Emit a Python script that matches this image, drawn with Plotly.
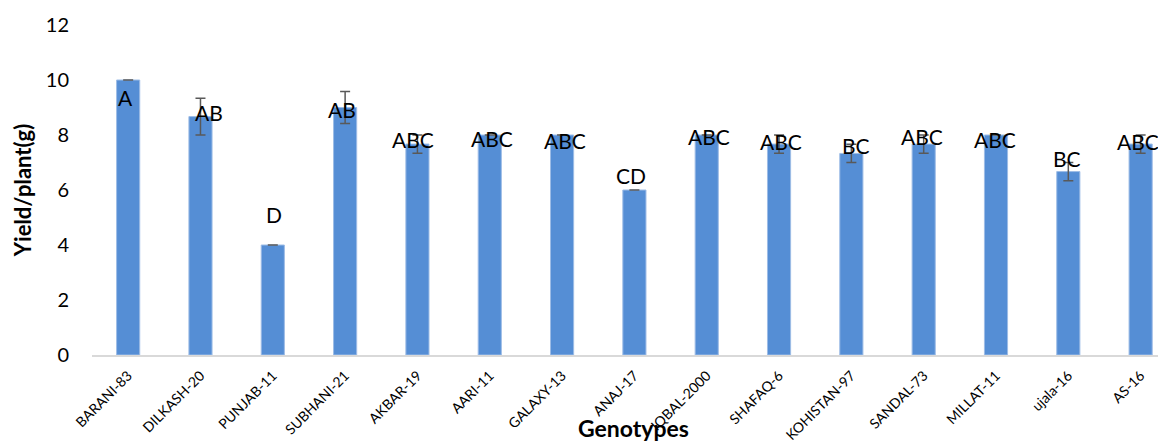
import plotly.graph_objects as go

genotypes = ["BARANI-83", "DILKASH-20", "PUNJAB-11", "SUBHANI-21", "AKBAR-19", "AARI-11",
             "GALAXY-13", "ANAJ-17", "IQBAL-2000", "SHAFAQ-6", "KOHISTAN-97", "SANDAL-73",
             "MILLAT-11", "ujala-16", "AS-16"]
yield_per_plant = [10.0, 8.67, 4.0, 9.0, 7.67, 8.0, 8.0, 6.0, 8.0, 7.67, 7.33, 7.67, 8.0, 6.67, 7.67]
std_error = [0.0, 0.67, 0.0, 0.58, 0.33, 0.0, 0.0, 0.0, 0.0, 0.33, 0.33, 0.33, 0.0, 0.33, 0.33]
letters = ["A", "AB", "D", "AB", "ABC", "ABC", "ABC", "CD", "ABC", "ABC", "BC", "ABC", "ABC", "BC", "ABC"]

# pixel nudges for the letter labels relative to each bar top
label_dy = [-17, 4, 31, -2, 5, -3, -5, 15, -1, 3, 8, 8, -4, 13, 3]
label_dx = [-3, 9, 1, -3, -4, 2, 3, -3, 2, 2, 5, -2, -1, -1, -3]

FONT = "Lato"

fig = go.Figure()
fig.add_trace(go.Bar(
    x=genotypes,
    y=yield_per_plant,
    width=0.32,
    marker=dict(color="#558ed5", line=dict(color="#9dbce6", width=1)),
    error_y=dict(type="data", array=std_error, visible=True,
                 color="#595959", thickness=1.5, width=5),
    showlegend=False,
))

for g, v, t, dy, dx in zip(genotypes, yield_per_plant, letters, label_dy, label_dx):
    fig.add_annotation(x=g, y=v, text=t, showarrow=False, xref="x", yref="y",
                       yshift=dy, xshift=dx,
                       font=dict(family=FONT, size=21, color="#000000"))

fig.add_annotation(text="<b>Genotypes</b>", xref="paper", yref="paper",
                   x=0.508, y=-0.222, xanchor="center", yanchor="middle",
                   showarrow=False, font=dict(family=FONT, size=23, color="#000000"))

fig.update_layout(
    width=1158, height=443,
    margin=dict(l=92, r=0, t=25, b=88, autoexpand=False),
    paper_bgcolor="white", plot_bgcolor="white",
    font=dict(family=FONT, color="#000000"),
    bargap=0.68,
)
fig.update_xaxes(
    range=[-0.5, 14.24], automargin=False,
    showline=True, linecolor="#d9d9d9", linewidth=2,
    showgrid=False, ticks="", tickangle=-45, ticklabelstandoff=5,
    tickfont=dict(family=FONT, size=14, color="#000000"),
)
fig.update_yaxes(
    range=[0, 12], dtick=2, showgrid=False, zeroline=False, showline=False,
    ticks="", ticklabelstandoff=22, automargin=False,
    tickfont=dict(family=FONT, size=20, color="#000000"),
    title=dict(text="<b>Yield/plant(g)</b>", font=dict(family=FONT, size=22, color="#000000"),
               standoff=8),
)

fig.write_html("out.html")
